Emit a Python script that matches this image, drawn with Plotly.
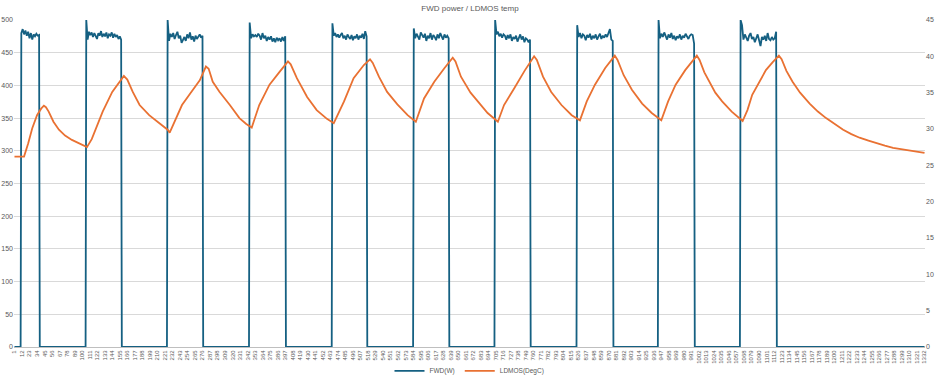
import numpy as np
import plotly.graph_objects as go

# ---------------- data ----------------
title_text = "FWD power / LDMOS temp"
fwd_name = "FWD(W)"
temp_name = "LDMOS(DegC)"
sample_count = 1332
x_tick_values = list(range(1, sample_count + 1, 11))
x_tick_labels = [str(v) for v in x_tick_values]

# FWD power pulses: sample where power switches on / off, and readings along each pulse
pulse_on = [11, 106, 225, 345, 466, 585, 704, 824, 943, 1063]
pulse_off = [37, 157, 276, 397, 516, 636, 755, 876, 995, 1115]
pulse_w = [
    [480, 486, 478, 484, 476, 482, 472, 480, 470, 478, 475, 479, 476, 477],
    [500, 470, 482, 477, 481, 474, 480, 476, 471, 480, 476, 483, 474, 479, 475, 481, 472, 478, 476, 481, 473, 479, 474, 477, 471, 475, 470],
    [500, 468, 479, 474, 480, 471, 477, 482, 472, 476, 465, 470, 474, 468, 478, 472, 481, 470, 475, 467, 476, 471, 474, 478, 473, 476],
    [496, 472, 478, 475, 477, 474, 479, 476, 470, 480, 472, 476, 468, 474, 470, 475, 467, 472, 466, 473, 469, 472, 467, 474, 468, 475],
    [495, 476, 480, 474, 478, 473, 477, 480, 472, 476, 470, 478, 474, 471, 477, 469, 475, 472, 478, 470, 476, 473, 479, 471, 483, 475],
    [487, 472, 479, 475, 470, 481, 476, 473, 479, 468, 476, 472, 480, 470, 477, 474, 469, 478, 472, 480, 475, 470, 478, 473, 476, 472],
    [500, 478, 482, 475, 479, 473, 478, 476, 470, 477, 472, 478, 468, 474, 471, 476, 467, 473, 478, 470, 475, 466, 472, 470, 466, 470],
    [492, 474, 480, 472, 478, 476, 469, 477, 473, 479, 470, 476, 472, 478, 470, 475, 479, 471, 476, 473, 478, 474, 480, 486, 470, 468],
    [500, 472, 479, 474, 481, 476, 470, 478, 473, 480, 471, 476, 469, 475, 472, 478, 470, 476, 473, 479, 474, 471, 476, 478, 477, 464],
    [500, 492, 470, 478, 473, 468, 476, 480, 471, 474, 466, 472, 478, 469, 460, 474, 470, 476, 468, 480, 471, 469, 474, 470, 472, 482],
]

# LDMOS temperature readings (sample index, degC)
temp_idx = [1, 15, 21, 27, 34, 40, 44, 47, 51, 58, 66, 75, 85, 100, 107,
            114, 120, 130, 144, 154, 161, 166, 174, 184, 198, 213, 225, 228,
            238, 246, 262, 272, 281, 285, 291, 301, 316, 330, 340, 348,
            359, 374, 389, 401, 405, 414, 429, 443, 458, 468,
            483, 497, 512, 521, 525, 534, 546, 561, 576, 588,
            600, 615, 630, 642, 646, 654, 668, 679, 693, 708,
            717, 732, 747, 761, 765, 774, 786, 801, 816, 828,
            838, 850, 865, 879, 883, 892, 904, 919, 933, 947,
            957, 968, 982, 999, 1003, 1010, 1017, 1026, 1036, 1050, 1066,
            1073, 1080, 1090, 1100, 1110, 1119, 1123, 1130, 1139, 1150, 1164,
            1176, 1188, 1200, 1213, 1225, 1237, 1250, 1262, 1274, 1286, 1298, 1311, 1322, 1332]
temp_c = [26.2, 26.2, 28.0, 30.1, 31.9, 32.8, 33.2, 33.0, 32.4, 31.0, 29.9, 29.1, 28.5, 27.8, 27.5,
          28.6, 30.1, 32.4, 35.1, 36.5, 37.3, 36.8, 35.1, 33.3, 31.9, 30.8, 29.9, 29.5,
          31.5, 33.3, 35.4, 36.7, 38.6, 38.3, 36.5, 35.1, 33.3, 31.5, 30.7, 30.2,
          33.3, 36.1, 37.9, 39.3, 38.9, 37.0, 34.4, 32.6, 31.4, 30.8,
          33.8, 37.0, 38.8, 39.6, 39.1, 37.2, 35.1, 33.4, 31.9, 31.0,
          34.2, 36.5, 38.4, 39.8, 39.3, 37.2, 35.0, 33.8, 32.2, 31.0,
          33.3, 35.6, 38.0, 40.0, 39.5, 37.2, 35.1, 33.3, 31.9, 31.2,
          33.8, 36.1, 38.4, 40.1, 39.5, 37.4, 35.4, 33.5, 32.2, 31.2,
          33.8, 36.1, 38.1, 40.1, 39.5, 37.8, 36.5, 35.0, 33.8, 32.4, 31.1,
          32.6, 34.7, 36.5, 38.1, 39.2, 40.1, 39.6, 38.0, 36.5, 35.0, 33.5,
          32.4, 31.5, 30.7, 29.9, 29.3, 28.8, 28.4, 28.0, 27.7, 27.4, 27.2, 27.0, 26.8, 26.7]

# ---------------- build FWD trace from pulses ----------------
fwd_x = [1]
fwd_y = [0]
for on, off, w in zip(pulse_on, pulse_off, pulse_w):
    fwd_x += [on - 1]
    fwd_y += [0]
    fwd_x += list(np.linspace(on, off, len(w)))
    fwd_y += w
    fwd_x += [off + 1]
    fwd_y += [0]
fwd_x.append(sample_count)
fwd_y.append(0)

BLUE = "#156082"
ORANGE = "#E97132"
GRID = "#D9D9D9"
TXT = "#595959"
FONT = "Liberation Sans, Arial, sans-serif"

fig = go.Figure()
fig.add_trace(go.Scatter(x=fwd_x, y=fwd_y, name=fwd_name, mode="lines",
                         line=dict(color=BLUE, width=1.8), yaxis="y"))
fig.add_trace(go.Scatter(x=temp_idx, y=temp_c, name=temp_name, mode="lines",
                         line=dict(color=ORANGE, width=1.8), yaxis="y2"))

fig.update_layout(
    template="none",
    width=940, height=378,
    paper_bgcolor="white", plot_bgcolor="white",
    margin=dict(l=14, r=15, t=20, b=31, autoexpand=False),
    font=dict(family=FONT, color=TXT, size=7),
    title=dict(text=title_text, x=0.5, xanchor="center", y=1 - 8 / 378, yanchor="middle",
               font=dict(family=FONT, size=8, color=TXT)),
    showlegend=True,
    hovermode=False,
    legend=dict(orientation="h", x=0.5, xanchor="center", y=-0.073, yanchor="middle",
                font=dict(family=FONT, size=6.5, color=TXT), itemwidth=30,
                bgcolor="rgba(0,0,0,0)"),
    xaxis=dict(range=[0.3, sample_count + 0.7], tickmode="array", tickvals=x_tick_values,
               ticktext=x_tick_labels, tickangle=-90, tickfont=dict(size=6, color=TXT),
               color=TXT, showgrid=False, zeroline=False, showline=True, linecolor="#BFBFBF",
               linewidth=1, ticks="", ticklen=0),
    yaxis=dict(range=[0, 500], dtick=50, showgrid=True, gridcolor=GRID, gridwidth=1,
               color=TXT, zeroline=False, showline=False, ticks="",
               tickfont=dict(size=7, color=TXT)),
    yaxis2=dict(range=[0, 45], dtick=5, overlaying="y", side="right", showgrid=False,
                color=TXT, zeroline=False, showline=False, ticks="",
                tickfont=dict(size=7, color=TXT)),
)

fig.write_html("out.html",
               config={"displayModeBar": False, "staticPlot": True},
               post_script="document.body.style.margin='0px';document.body.style.overflow='hidden';")
